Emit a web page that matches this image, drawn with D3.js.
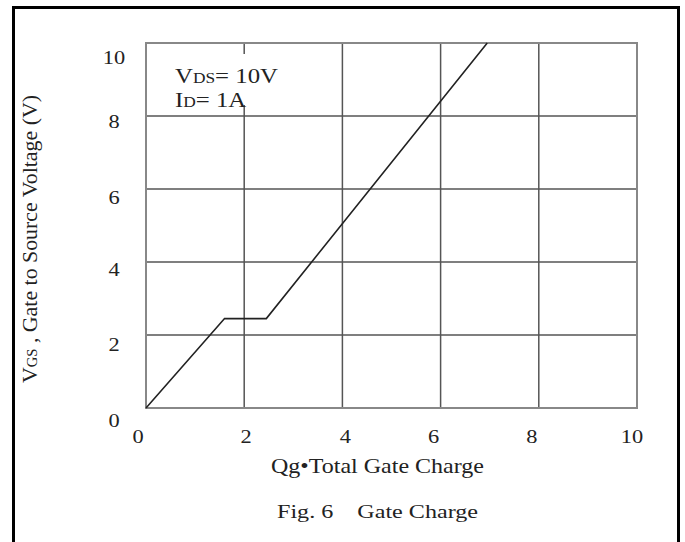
<!DOCTYPE html>
<html>
<head>
<meta charset="utf-8">
<script src="https://cdn.jsdelivr.net/npm/d3@7/dist/d3.min.js"></script>
<style>
  html, body { margin: 0; padding: 0; background: #fff; }
  svg { display: block; }
  text { font-family: "Liberation Serif", "Times New Roman", serif; fill: #222; }
</style>
</head>
<body>
<svg id="chart" width="685" height="542"></svg>
<script>
// Gate charge curve: total gate charge (nC) vs gate-to-source voltage (V)
const qg  = [0, 1.6, 2.45, 6.95];
const vgs = [0, 2.45, 2.45, 10];

const xTicks = [0, 2, 4, 6, 8, 10];
const yTicks = [0, 2, 4, 6, 8, 10];
const xTickLabels = ["0", "2", "4", "6", "8", "10"];
const yTickLabels = ["0", "2", "4", "6", "8", "10"];

const svg = d3.select("#chart");
const plot = { left: 146, top: 43, right: 637, bottom: 408 };

const x = d3.scaleLinear().domain([0, 10]).range([plot.left, plot.right]);
const y = d3.scaleLinear().domain([0, 10]).range([plot.bottom, plot.top]);

// text glyphs are set slightly wide
const SX = 1.18;
function label(parent, px, py, size, anchor, sx = SX) {
  return parent.append("g")
    .attr("transform", `translate(${px},${py}) scale(${sx},1)`)
    .append("text")
    .attr("font-size", size)
    .attr("text-anchor", anchor);
}

// outer figure frame
svg.append("rect")
  .attr("x", 13.5).attr("y", 7.5)
  .attr("width", 665).attr("height", 545)
  .attr("fill", "none").attr("stroke", "#000").attr("stroke-width", 3);

// grid
const grid = svg.append("g").attr("stroke", "#555").attr("stroke-width", 1.5);
grid.selectAll("line.v").data(xTicks.slice(1, -1)).join("line")
  .attr("class", "v")
  .attr("x1", d => x(d)).attr("x2", d => x(d))
  .attr("y1", y(0)).attr("y2", y(10));
grid.selectAll("line.h").data(yTicks.slice(1, -1)).join("line")
  .attr("class", "h")
  .attr("y1", d => y(d)).attr("y2", d => y(d))
  .attr("x1", x(0)).attr("x2", x(10));

// plot frame
svg.append("rect")
  .attr("x", x(0)).attr("y", y(10))
  .attr("width", x(10) - x(0)).attr("height", y(0) - y(10))
  .attr("fill", "none").attr("stroke", "#888").attr("stroke-width", 2);

// test-condition annotation on a white backing
svg.append("rect")
  .attr("x", 168).attr("y", 54).attr("width", 116).attr("height", 51)
  .attr("fill", "#fff");
const a1 = label(svg, 175, 83, 20, "start", 1.24);
a1.append("tspan").text("V");
a1.append("tspan").attr("font-size", 14).text("DS");
a1.append("tspan").text("= 10V");
const a2 = label(svg, 175, 107, 20, "start", 1.24);
a2.append("tspan").text("I");
a2.append("tspan").attr("font-size", 14).text("D");
a2.append("tspan").text("= 1A");

// curve
const line = d3.line().x((d, i) => x(qg[i])).y((d, i) => y(vgs[i]));
svg.append("path")
  .datum(qg)
  .attr("d", line)
  .attr("fill", "none").attr("stroke", "#222").attr("stroke-width", 1.6);

// tick labels
const xOff = [-8, 2, 3, -7, -7, -5];
xTicks.forEach((d, i) => {
  label(svg, x(d) + xOff[i], 443, 19, "middle").text(xTickLabels[i]);
});
const yOff = [12, 9, 7, 8, 5, 14];
yTicks.forEach((d, i) => {
  label(svg, 114, y(d) + yOff[i] + 6.5, 19, "middle").text(yTickLabels[i]);
});

// axis titles
const yt = svg.append("text")
  .attr("transform", "translate(37,239) rotate(-90)")
  .attr("text-anchor", "middle")
  .attr("font-size", 21)
  .attr("textLength", 288)
  .attr("lengthAdjust", "spacingAndGlyphs");
yt.append("tspan").text("V");
yt.append("tspan").attr("font-size", 14).text("GS");
yt.append("tspan").text(" , Gate to Source Voltage (V)");

svg.append("text")
  .attr("x", 377.5).attr("y", 473)
  .attr("text-anchor", "middle").attr("font-size", 21)
  .attr("textLength", 213)
  .attr("lengthAdjust", "spacingAndGlyphs")
  .text("Qg•Total Gate Charge");

svg.append("text")
  .attr("x", 377.5).attr("y", 518)
  .attr("text-anchor", "middle").attr("font-size", 19)
  .attr("textLength", 201)
  .attr("lengthAdjust", "spacingAndGlyphs")
  .attr("xml:space", "preserve")
  .text("Fig. 6    Gate Charge");
</script>
</body>
</html>
